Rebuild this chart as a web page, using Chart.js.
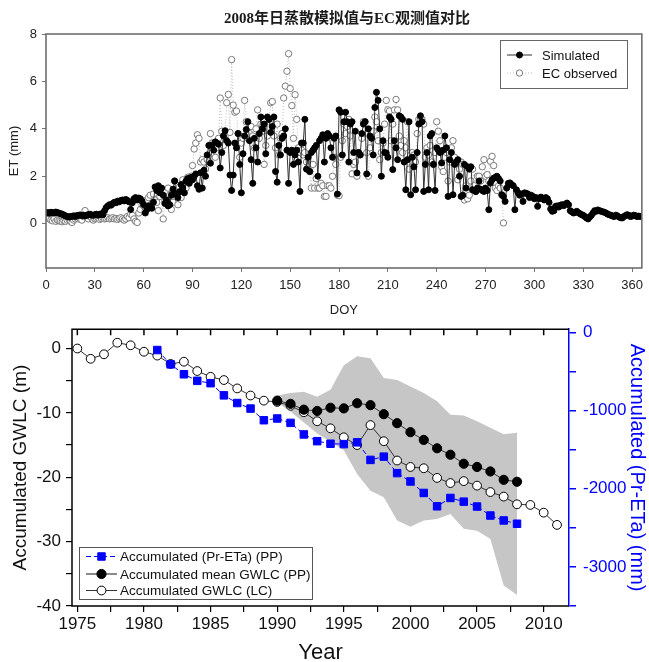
<!DOCTYPE html>
<html>
<head>
<meta charset="utf-8">
<title>ET 2008 and accumulated GWLC</title>
<script src="https://cdn.jsdelivr.net/npm/chart.js@4.4.1/dist/chart.umd.min.js"></script>
<style>
  html, body { margin: 0; padding: 0; background: #fff; }
  #page { position: relative; width: 649px; height: 662px; overflow: hidden; }
  #etChart { position: absolute; left: 0; top: 0; }
  #gwlcChart { position: absolute; left: 0; top: 312px; }
  #etTitle {
    position: absolute; left: 0; top: 9px; width: 694px; text-align: center;
    font: bold 15px/18px 'Liberation Serif', 'Noto Sans CJK SC', serif; color: #1a1a1a;
  }
</style>
</head>
<body>
<div id="page">
  <canvas id="etChart" width="649" height="318"></canvas>
  <div id="etTitle">2008年日蒸散模拟值与EC观测值对比</div>
  <canvas id="gwlcChart" width="649" height="354"></canvas>
</div>
<script>
// ---- top panel: daily ET 2008, index = day of year ----
const simulatedET = [
  0.45,0.47,0.44,0.48,0.46,0.45,0.49,0.47,0.44,0.42,
  0.40,0.36,0.33,0.30,0.28,0.30,0.31,0.33,0.30,0.34,
  0.35,0.37,0.34,0.36,0.33,0.35,0.38,0.40,0.37,0.35,
  0.38,0.40,0.36,0.39,0.42,0.38,0.55,0.68,0.75,0.80,
  0.78,0.85,0.90,0.88,0.95,0.92,0.98,1.00,0.96,1.02,
  0.98,0.92,0.60,0.88,1.05,1.10,1.00,1.08,1.05,0.95,
  0.80,0.45,0.60,0.75,0.70,0.65,0.90,1.55,1.40,1.60,
  1.30,1.50,1.20,0.85,1.00,0.75,0.80,1.20,1.45,1.80,
  1.25,1.10,1.35,1.65,1.50,1.30,1.80,1.90,1.70,1.95,
  1.85,2.00,2.10,1.60,1.45,2.15,1.50,2.25,2.00,2.90,
  3.30,2.55,3.30,3.10,3.45,3.40,3.35,2.35,3.00,3.70,
  3.92,3.50,3.40,2.05,1.40,2.05,3.40,3.20,3.80,2.50,
  1.30,2.95,3.70,3.97,4.30,3.50,2.70,1.70,3.60,3.20,
  2.60,3.80,4.50,4.00,4.20,2.95,4.50,4.40,3.85,4.10,
  4.50,2.20,1.75,3.30,2.90,3.60,3.70,4.00,3.10,1.70,
  3.00,3.10,2.50,2.90,3.10,2.60,1.36,3.40,3.40,4.40,
  2.30,2.80,2.20,3.00,3.10,3.20,3.30,2.00,3.50,3.60,
  3.75,2.60,3.60,3.80,3.70,3.20,2.80,3.60,3.70,1.25,
  4.80,4.70,2.90,4.30,4.70,4.30,2.60,4.20,4.30,3.00,
  3.90,2.14,3.00,2.90,3.80,4.20,4.30,2.10,4.00,3.70,
  3.60,2.90,4.90,5.54,5.20,4.00,2.00,3.50,3.00,2.98,
  2.80,4.50,4.40,2.28,3.50,3.20,2.70,4.55,4.50,4.40,
  2.60,1.43,2.70,4.30,1.22,2.80,2.40,1.43,3.00,4.20,
  4.55,4.30,1.36,2.50,3.00,1.43,3.70,3.80,2.50,1.40,
  3.20,3.10,3.00,2.56,3.10,3.70,3.20,1.15,2.70,3.00,
  1.22,2.50,2.60,2.70,2.00,1.15,1.20,2.50,1.50,2.40,
  2.30,2.40,1.43,1.40,1.35,1.50,1.80,1.45,1.40,1.36,
  1.50,1.40,0.59,1.71,1.85,1.92,1.95,2.00,1.90,1.80,
  1.22,1.15,0.94,1.50,1.70,1.72,1.65,1.60,0.59,1.43,
  1.30,1.20,1.25,0.94,1.30,1.28,1.25,1.10,1.20,1.15,
  1.05,1.10,0.73,1.05,1.12,1.08,1.00,1.10,1.05,0.90,
  0.62,0.52,0.55,0.73,0.75,0.70,0.78,0.80,0.76,0.82,
  0.87,0.80,0.55,0.50,0.45,0.48,0.52,0.46,0.42,0.38,
  0.35,0.30,0.24,0.20,0.28,0.35,0.45,0.55,0.52,0.58,
  0.55,0.52,0.50,0.48,0.45,0.40,0.38,0.35,0.32,0.30,
  0.36,0.33,0.28,0.25,0.24,0.30,0.34,0.38,0.35,0.30,
  0.32,0.36,0.34,0.30,0.32,0.30
];

const observedET = [
  0.30,0.25,0.20,0.15,0.12,0.20,0.10,0.15,0.12,0.10,
  0.08,0.12,0.10,0.15,0.20,0.10,0.05,0.15,0.20,0.25,
  0.20,0.22,0.15,0.30,0.55,0.35,0.20,0.30,0.25,0.15,
  0.20,0.22,0.25,0.18,0.22,0.25,0.20,0.22,0.25,0.20,
  0.22,0.25,0.20,0.22,0.18,0.22,0.25,0.20,0.15,0.20,
  0.30,0.25,0.40,0.35,0.20,0.10,0.05,0.45,0.60,0.80,
  0.75,0.55,1.00,1.10,1.20,0.80,1.25,1.00,0.90,0.55,
  1.15,1.30,0.20,0.95,1.40,1.50,1.20,0.60,0.90,1.80,
  1.20,0.80,1.55,1.10,1.85,1.70,1.50,1.95,1.80,2.00,
  2.45,3.15,3.40,3.75,3.60,2.60,2.70,2.60,2.30,2.70,
  2.60,3.80,3.40,3.40,2.80,3.20,3.60,5.30,3.90,3.30,
  3.70,5.10,5.45,3.85,6.92,5.00,4.70,4.75,3.80,2.80,
  3.40,3.60,5.20,4.30,3.60,3.80,4.10,3.70,3.20,4.00,
  4.80,3.60,4.20,3.90,2.50,3.30,3.70,4.40,5.10,5.15,
  3.70,3.20,4.20,2.90,3.60,3.80,5.30,5.80,6.43,7.17,
  5.70,4.98,3.60,5.44,4.40,3.20,3.00,3.10,2.90,3.00,
  2.60,2.40,2.20,1.50,2.50,1.50,1.90,1.50,1.50,1.70,
  1.60,1.15,1.15,1.60,1.60,1.50,2.00,2.80,2.50,1.20,
  1.18,2.80,3.50,4.20,3.80,4.10,4.40,3.70,2.10,2.50,
  2.60,2.00,3.00,2.90,3.60,4.30,4.30,3.00,2.00,3.20,
  3.70,3.90,4.50,4.30,3.50,2.70,3.00,3.40,4.20,5.20,
  4.80,4.75,3.50,4.20,4.80,5.24,4.80,3.70,3.30,3.00,
  3.50,3.20,4.30,2.30,2.90,3.00,2.90,2.60,3.80,4.40,
  4.40,4.40,4.20,2.80,3.20,2.90,3.30,2.60,2.50,3.00,
  4.30,3.90,3.50,2.40,2.20,2.80,3.00,1.80,2.60,3.20,
  3.50,2.80,2.60,1.85,2.30,2.60,2.50,1.00,1.60,1.05,
  1.20,1.80,2.30,1.60,1.40,2.00,2.00,1.80,2.40,2.70,
  2.00,2.07,1.80,2.63,2.84,2.45,1.50,1.40,1.60,1.50,
  1.20,0.03
];

const doyTicks = [0, 30, 60, 90, 120, 150, 180, 210, 240, 270, 300, 330, 360];
const etTicks = [0, 2, 4, 6, 8];

// ---- bottom panel: accumulated series by year ----
const lcYears = [1975,1976,1977,1978,1979,1980,1981,1982,1983,1984,1985,1986,1987,1988,1989,1990,1991,1992,1993,
  1994,1995,1996,1997,1998,1999,2000,2001,2002,2003,2004,2005,2006,2007,2008,2009,2010,2011];
const gwlcLC = [0.0,-1.6,-0.9,0.9,0.5,-0.5,-1.1,-2.4,-2.05,-3.5,-4.4,-4.9,-6.2,-7.3,-8.1,-8.3,-8.9,-9.9,-11.3,
  -12.4,-13.8,-15.0,-11.9,-14.4,-17.4,-18.4,-18.6,-20.1,-20.9,-20.6,-21.3,-22.3,-23.0,-24.2,-24.3,-25.5,-27.4];

const ppYears = [1990,1991,1992,1993,1994,1995,1996,1997,1998,1999,2000,2001,2002,2003,2004,2005,2006,2007,2008];
const gwlcMeanPP = [-8.1,-8.6,-9.5,-9.7,-9.2,-9.3,-8.5,-8.8,-10.2,-11.6,-13.0,-14.2,-15.5,-16.5,-17.9,-18.4,-19.1,-20.4,-20.7];
const gwlcUpperPP = [-7.3,-6.9,-6.7,-7.5,-6.4,-2.6,-1.2,-1.5,-4.6,-4.9,-5.9,-6.9,-8.2,-10.3,-10.4,-11.3,-12.3,-13.3,-13.1];
const gwlcLowerPP = [-8.4,-9.8,-11.5,-13.2,-14.5,-15.8,-19.5,-22.1,-23.1,-26.7,-27.7,-26.7,-26.5,-25.7,-28.0,-28.3,-29.6,-36.8,-38.3];

const pretaYears = [1981,1982,1983,1984,1985,1986,1987,1988,1989,1990,1991,1992,1993,1994,1995,1996,1997,1998,
  1999,2000,2001,2002,2003,2004,2005,2006,2007,2008];
const pretaPP = [-224,-407,-534,-618,-648,-804,-902,-973,-1122,-1100,-1156,-1304,-1390,-1423,-1428,-1405,-1630,-1588,
  -1799,-1906,-2053,-2224,-2117,-2164,-2227,-2342,-2405,-2447];

const yearTicks = [1975,1977.5,1980,1982.5,1985,1987.5,1990,1992.5,1995,1997.5,2000,2002.5,2005,2007.5,2010];
const gwlcTicks = [-40,-35,-30,-25,-20,-15,-10,-5,0];
const pretaTicks = [-3500,-3000,-2500,-2000,-1500,-1000,-500,0];

Chart.defaults.font.family = "'Liberation Sans', Arial, sans-serif";
Chart.defaults.color = '#111';

function xy(xs, ys) {
  return ys.map((v, i) => ({ x: xs[i], y: v }));
}

// legend box drawn inside the plot, styles taken from the datasets
function drawLegend(chart, box, rows, font) {
  const ctx = chart.ctx;
  ctx.save();
  ctx.fillStyle = '#fff';
  ctx.fillRect(box.x, box.y, box.w, box.h);
  ctx.strokeStyle = box.border;
  ctx.lineWidth = 1;
  ctx.strokeRect(box.x + 0.5, box.y + 0.5, box.w, box.h);
  ctx.font = font;
  ctx.textBaseline = 'middle';
  rows.forEach(r => {
    const ds = chart.data.datasets[r.index];
    ctx.strokeStyle = r.lineColor || ds.borderColor;
    ctx.lineWidth = r.lineWidth || ds.borderWidth;
    ctx.setLineDash(ds.borderDash || []);
    ctx.beginPath();
    ctx.moveTo(box.x + box.line0, r.y);
    ctx.lineTo(box.x + box.line1, r.y);
    ctx.stroke();
    ctx.setLineDash([]);
    const mx = box.x + (box.line0 + box.line1) / 2;
    ctx.fillStyle = ds.pointBackgroundColor;
    ctx.strokeStyle = ds.pointBorderColor;
    ctx.lineWidth = ds.pointBorderWidth;
    ctx.beginPath();
    if (ds.pointStyle === 'rect') {
      const s = ds.pointRadius * Math.SQRT1_2;
      ctx.rect(mx - s, r.y - s, 2 * s, 2 * s);
    } else {
      ctx.arc(mx, r.y, ds.pointRadius, 0, Math.PI * 2);
    }
    ctx.fill();
    ctx.stroke();
    ctx.fillStyle = '#111';
    ctx.fillText(r.text, box.x + box.text, r.y + 1);
  });
  ctx.restore();
}

const etDecor = {
  id: 'etDecor',
  afterDraw(chart) {
    const { ctx, chartArea: a } = chart;
    ctx.save();
    ctx.strokeStyle = '#666';
    ctx.lineWidth = 1.5;
    ctx.strokeRect(a.left, a.top, a.right - a.left, a.bottom - a.top);
    ctx.restore();
    drawLegend(chart, { x: 500, y: 40, w: 127, h: 48, border: '#666', line0: 7, line1: 32, text: 42 }, [
      { index: 0, y: 55, text: 'Simulated' },
      { index: 1, y: 73, text: 'EC observed' }
    ], '13px Liberation Sans, Arial, sans-serif');
  }
};

new Chart(document.getElementById('etChart'), {
  type: 'line',
  data: {
    datasets: [{
      label: 'Simulated',
      data: simulatedET.map((v, i) => ({ x: i, y: v })),
      borderColor: '#333',
      borderWidth: 1,
      pointRadius: 3,
      pointBackgroundColor: '#000',
      pointBorderColor: '#000',
      pointBorderWidth: 1
    }, {
      label: 'EC observed',
      data: observedET.map((v, i) => ({ x: i, y: v })),
      borderColor: '#bdbdbd',
      borderWidth: 1,
      borderDash: [1, 2],
      pointRadius: 3.2,
      pointBackgroundColor: '#fff',
      pointBorderColor: '#7a7a7a',
      pointBorderWidth: 1
    }]
  },
  options: {
    responsive: false,
    animation: false,
    devicePixelRatio: 1,
    layout: { padding: { top: 34, right: 4, left: 0, bottom: 0 } },
    plugins: { legend: { display: false }, tooltip: { enabled: false } },
    scales: {
      x: {
        type: 'linear', min: 0, max: 366,
        afterBuildTicks: s => { s.ticks = doyTicks.map(v => ({ value: v })); },
        afterFit: s => { s.height = 50; },
        grid: { drawOnChartArea: false, tickLength: 4, color: '#777' },
        border: { display: false },
        ticks: { font: { size: 13 }, color: '#222', padding: 6, maxRotation: 0, autoSkip: false },
        title: { display: true, text: 'DOY', font: { size: 13 }, color: '#222', padding: 0 }
      },
      y: {
        min: -1.87, max: 8,
        afterBuildTicks: s => { s.ticks = etTicks.map(v => ({ value: v })); },
        afterFit: s => { s.width = 46; },
        grid: { drawOnChartArea: false, tickLength: 4, color: '#777' },
        border: { display: false },
        ticks: { font: { size: 13 }, color: '#222', padding: 5 },
        title: { display: true, text: 'ET (mm)', font: { size: 13 }, color: '#222', padding: { top: 7, bottom: 0 } }
      }
    }
  },
  plugins: [etDecor]
});

const gwlcDecor = {
  id: 'gwlcDecor',
  afterDraw(chart) {
    const { ctx, chartArea: a } = chart;
    const xs = chart.scales.x;
    ctx.save();
    ctx.strokeStyle = '#000';
    ctx.lineWidth = 1.5;
    ctx.beginPath();
    ctx.moveTo(a.right, a.top);
    ctx.lineTo(a.left, a.top);
    ctx.lineTo(a.left, a.bottom);
    ctx.lineTo(a.right, a.bottom);
    // inward ticks along the top edge
    yearTicks.forEach(v => {
      const px = xs.getPixelForValue(v);
      ctx.moveTo(px, a.top);
      ctx.lineTo(px, a.top + 6);
    });
    ctx.stroke();
    ctx.restore();
    drawLegend(chart, { x: 79, y: 235, w: 233, h: 52, border: '#555', line0: 7, line1: 38, text: 41 }, [
      { index: 0, y: 244.5, text: 'Accumulated (Pr-ETa) (PP)' },
      { index: 1, y: 262, text: 'Accumulated mean GWLC (PP)', lineColor: '#8a8a8a', lineWidth: 2 },
      { index: 2, y: 278.5, text: 'Accumulated GWLC (LC)' }
    ], '13.5px Liberation Sans, Arial, sans-serif');
  }
};

new Chart(document.getElementById('gwlcChart'), {
  type: 'line',
  data: {
    datasets: [{
      label: 'Accumulated (Pr-ETa) (PP)',
      data: xy(pretaYears, pretaPP),
      yAxisID: 'y2',
      borderColor: '#0000ff',
      borderWidth: 1,
      borderDash: [5, 3],
      pointStyle: 'rect',
      pointRadius: 5.3,
      pointBackgroundColor: '#0000ff',
      pointBorderColor: '#0000ff',
      pointBorderWidth: 1
    }, {
      label: 'Accumulated mean GWLC (PP)',
      data: xy(ppYears, gwlcMeanPP),
      yAxisID: 'y',
      borderColor: '#333',
      borderWidth: 1,
      pointRadius: 4.6,
      pointBackgroundColor: '#000',
      pointBorderColor: '#000',
      pointBorderWidth: 1
    }, {
      label: 'Accumulated GWLC (LC)',
      data: xy(lcYears, gwlcLC),
      yAxisID: 'y',
      borderColor: '#333',
      borderWidth: 1,
      pointRadius: 4.4,
      pointBackgroundColor: '#fff',
      pointBorderColor: '#000',
      pointBorderWidth: 1
    }, {
      label: 'upper',
      data: xy(ppYears, gwlcUpperPP),
      yAxisID: 'y',
      borderWidth: 0,
      pointRadius: 0,
      backgroundColor: '#c6c6c6',
      fill: '+1'
    }, {
      label: 'lower',
      data: xy(ppYears, gwlcLowerPP),
      yAxisID: 'y',
      borderWidth: 0,
      pointRadius: 0,
      fill: false
    }]
  },
  options: {
    responsive: false,
    animation: false,
    devicePixelRatio: 1,
    layout: { padding: { top: 15.3, right: 0, left: 0, bottom: 0 } },
    plugins: { legend: { display: false }, tooltip: { enabled: false } },
    scales: {
      x: {
        type: 'linear', min: 1974.6, max: 2011.9,
        afterBuildTicks: s => { s.ticks = yearTicks.map(v => ({ value: v })); },
        afterFit: s => { s.height = 60; },
        grid: { drawOnChartArea: false, tickLength: 6, color: '#000', lineWidth: 1.2 },
        border: { display: false },
        ticks: { font: { size: 17 }, padding: 2, maxRotation: 0, autoSkip: false,
                 callback: v => (v % 5 === 0 ? String(v) : '') },
        title: { display: true, text: 'Year', font: { size: 22 }, padding: 0 }
      },
      y: {
        position: 'left', min: -40, max: 3,
        afterBuildTicks: s => { s.ticks = gwlcTicks.map(v => ({ value: v })); },
        afterFit: s => { s.width = 72; },
        grid: { drawOnChartArea: false, tickLength: 6, color: '#000', lineWidth: 1.2 },
        border: { display: false },
        ticks: { font: { size: 17 }, padding: 5, callback: v => (v % 10 === 0 ? String(v) : '') },
        title: { display: true, text: 'Accumulated GWLC (m)', font: { size: 19 }, padding: { top: 9, bottom: 0 } }
      },
      y2: {
        position: 'right', min: -3500, max: 43,
        afterBuildTicks: s => { s.ticks = pretaTicks.map(v => ({ value: v })); },
        afterFit: s => { s.width = 80; },
        grid: { drawOnChartArea: false, tickLength: 7, color: '#0000ff', lineWidth: 1.5 },
        border: { display: true, color: '#0000ff', width: 1.5 },
        ticks: { font: { size: 17 }, color: '#0000ff', padding: 7, callback: v => (v % 1000 === 0 ? String(v) : '') },
        title: { display: true, text: 'Accumulated (Pr-ETa) (mm)', font: { size: 20 }, color: '#0000ff', padding: { top: 0, bottom: 0 } }
      }
    }
  },
  plugins: [gwlcDecor]
});
</script>
</body>
</html>
